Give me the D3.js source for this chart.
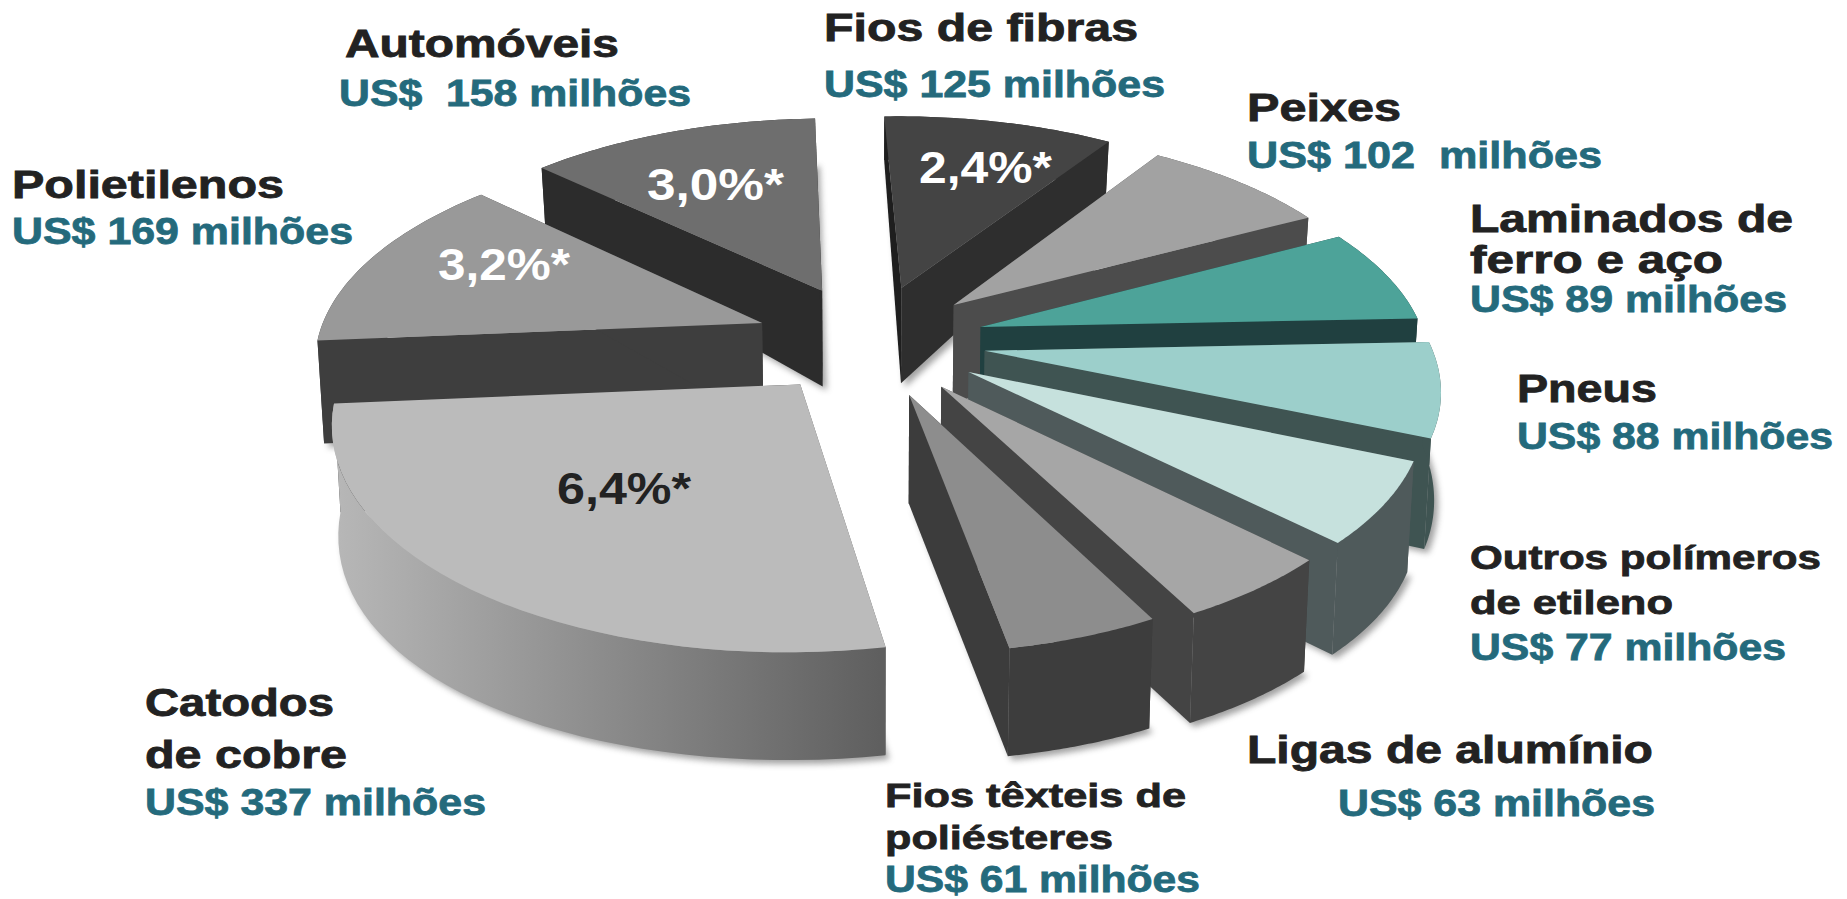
<!DOCTYPE html>
<html><head><meta charset="utf-8">
<script src="https://cdnjs.cloudflare.com/ajax/libs/d3/7.8.5/d3.min.js"></script>
<style>html,body{margin:0;padding:0;background:#fff;overflow:hidden}svg{display:block}text{font-family:"Liberation Sans",Arial,sans-serif;font-weight:700;white-space:pre}</style>
</head><body><svg id="c" width="1847" height="899"></svg>
<script>
// Data, clockwise from the top of the pie
const categories = ["Fios de fibras","Peixes","Laminados de ferro e aço","Pneus","Outros polímeros de etileno","Ligas de alumínio","Fios têxteis de poliésteres","Catodos de cobre","Polietilenos","Automóveis"];
const valuesUSD = [125,102,89,88,77,63,61,337,169,158];
const shareLabels = ["2,4%*",null,null,null,null,null,null,"6,4%*","3,2%*","3,0%*"];

// Styling, same order
const topColors  = ["#444444","#a2a2a2","#4da399","#9ccfcb","#c6e1dd","#a6a6a6","#8d8d8d","#bbbbbb","#999999","#6e6e6e"];
const cutColors  = ["#2e2e2e","#4c4c4c","#204040","#3f5452","#4f5a5b","#444444","#3c3c3c","#3e3e3e","#3e3e3e","#2c2c2c"];
const cut2Colors = ["#1e1e1e","#4c4c4c","#204040","#3f5452","#4f5a5b","#444444","#3c3c3c","#5f5f5f","#3e3e3e","#2c2c2c"];
const rimColors  = ["#2e2e2e","#4c4c4c","#204040","#3f5452","#4f5a5b","#444444","#3d3d3d","url(#rim)","#3e3e3e","#2c2c2c"];
const explode    = [0.27,0.26,0.26,0.26,0.26,0.26,0.26,0.25,0.26,0.27];
const radiusMul  = [1,1,1,1,0.985,0.98,0.96,1.005,1,1];

// Text table: [text, left, right, baseline, colour, size]
const K="#222222", T="#246a7c";
const textRows = [
 ["Fios de fibras",824,1138,41,K,38],["US$ 125 milhões",824,1165,97,T,37],
 ["Automóveis",345,619,57,K,38],["US$  158 milhões",339,691,106,T,37],
 ["Polietilenos",12,284,198,K,38],["US$ 169 milhões",12,353,244,T,37],
 ["Peixes",1247,1401,121,K,38],["US$ 102  milhões",1247,1602,168,T,37],
 ["Laminados de",1470,1793,232,K,38],["ferro e aço",1470,1723,273,K,38],["US$ 89 milhões",1470,1787,312,T,37],
 ["Pneus",1517,1657,402,K,38],["US$ 88 milhões",1517,1833,449,T,37],
 ["Outros polímeros",1470,1821,569,K,34],["de etileno",1470,1673,614,K,34],["US$ 77 milhões",1470,1786,660,T,37],
 ["Ligas de alumínio",1247,1653,763,K,38],["US$ 63 milhões",1338,1655,816,T,37],
 ["Fios têxteis de",885,1186,807,K,34],["poliésteres",885,1113,849,K,34],["US$ 61 milhões",885,1200,892,T,37],
 ["Catodos",145,334,716,K,38],["de cobre",145,347,768,K,38],["US$ 337 milhões",145,486,815,T,37]
];
const pctRows = [[0,919,1052,183,"#ffffff"],[7,557,691,504,"#222222"],[8,438,570,280,"#ffffff"],[9,647,784,200,"#ffffff"]];

// Perspective projection of the tilted pie plane
const CX=870, CY=341, W=445, R=212, A=0.15;
const proj=(u,v)=>{const s=1/(1-A*v);return [CX+W*u*s, CY+R*v*s];};
const depth=v=>{const t=Math.max(-1.25,Math.min(1.25,v));return 103+25.4*t-17.8*t*t;};
const projB=(u,v)=>{const p=proj(u,v);return [CX+(p[0]-CX)*0.988, p[1]+depth(v)];};

const svg=d3.select("#c");
const defs=svg.append("defs");
const g=defs.append("linearGradient").attr("id","rim").attr("gradientUnits","userSpaceOnUse").attr("x1",330).attr("x2",880).attr("y1",0).attr("y2",0);
g.append("stop").attr("offset",0).attr("stop-color","#b8b8b8");
g.append("stop").attr("offset",1).attr("stop-color","#5f5f5f");
defs.append("filter").attr("id","sh").attr("x","-10%").attr("y","-10%").attr("width","120%").attr("height","120%")
  .append("feGaussianBlur").attr("stdDeviation",3);

const pie=d3.pie().sort(null).value(d=>d).startAngle(-2*Math.PI/180).endAngle(358*Math.PI/180);
const arcs=pie(valuesUSD).map((a,i)=>{
  const mid=(a.startAngle+a.endAngle)/2;
  const ex=explode[i]*Math.sin(mid), ey=-explode[i]*Math.cos(mid);
  const pt=t=>[ex+radiusMul[i]*Math.sin(t), ey-radiusMul[i]*Math.cos(t)];
  const ts=d3.range(0,41).map(k=>a.startAngle+(a.endAngle-a.startAngle)*k/40);
  const rimP=ts.map(pt);
  return {i,mid,tip:[ex,ey],rimP,order:-Math.cos(mid)};
});
const line=d3.line().curve(d3.curveLinear);
const path=pts=>line(pts)+"Z";
const ordered=arcs.slice().sort((a,b)=>a.order-b.order);

// shadow layer
const shadow=svg.append("g").attr("filter","url(#sh)").attr("transform","translate(4,4)").attr("opacity",0.55);
ordered.forEach(a=>{
  const b=a.rimP.map(p=>projB(p[0],p[1]));
  const tb=projB(a.tip[0],a.tip[1]);
  shadow.append("path").attr("d",path([tb,...b])).attr("fill","#555");
});

const slices=svg.append("g");
ordered.forEach(a=>{
  const s=slices.append("g").attr("class","slice");
  const topRim=a.rimP.map(p=>proj(p[0],p[1]));
  const botRim=a.rimP.map(p=>projB(p[0],p[1]));
  const tt=proj(a.tip[0],a.tip[1]), tb=projB(a.tip[0],a.tip[1]);
  const drawRim=()=>s.append("path").attr("d",path([...topRim,...botRim.slice().reverse()])).attr("fill",rimColors[a.i]);
  if(a.order<0) drawRim();
  s.append("path").attr("d",path([tt,topRim[0],botRim[0],tb])).attr("fill",cut2Colors[a.i]);
  s.append("path").attr("d",path([tt,topRim[40],botRim[40],tb])).attr("fill",cutColors[a.i]);
  if(a.order>=0) drawRim();
  s.append("path").attr("d",path([tt,...topRim])).attr("fill",topColors[a.i]);
});

const labels=svg.append("g");
textRows.forEach(r=>{
  labels.append("text").attr("x",r[1]).attr("y",r[3]).attr("font-size",r[5]).attr("fill",r[4])
    .attr("stroke",r[4]).attr("stroke-width",0.8)
    .attr("textLength",r[2]-r[1]).attr("lengthAdjust","spacingAndGlyphs").text(r[0]);
});
pctRows.forEach(r=>{
  labels.append("text").attr("x",r[1]).attr("y",r[3]).attr("font-size",44).attr("fill",r[4])
    .attr("textLength",r[2]-r[1]).attr("lengthAdjust","spacingAndGlyphs").text(shareLabels[r[0]]);
});
</script></body></html>
